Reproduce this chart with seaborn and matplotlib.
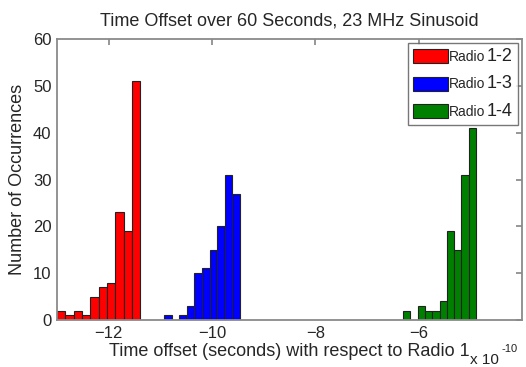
import numpy as np
import pandas as pd
import matplotlib
matplotlib.use("Agg")
import matplotlib.pyplot as plt
from matplotlib.offsetbox import TextArea
import seaborn as sns

# bin counts (10 bins per pair, as MATLAB hist does)
pairs = ["1-2", "1-3", "1-4"]
colors = ["#ff0000", "#0000ff", "#008000"]
red_counts = [2, 1, 2, 1, 5, 7, 8, 23, 19, 51]
blue_counts = [1, 0, 1, 3, 10, 11, 15, 20, 31, 27]
green_counts = [2, 0, 3, 2, 2, 4, 19, 15, 31, 41]
# range of each histogram, in units of 1e-10 s
ranges = [(-13.0, -11.39), (-10.93, -9.46), (-6.30, -4.89)]
xticks = [-12, -10, -8, -6]
yticks = [0, 10, 20, 30, 40, 50, 60]

sns.set_theme(style="white")
plt.rcParams['font.family'] = ['Liberation Sans', 'DejaVu Sans']

W, H = 526, 367
fig = plt.figure(figsize=(W / 100, H / 100), dpi=100)
ax = fig.add_axes([57 / W, 47 / H, 465 / W, 281 / H])

for counts, (lo, hi), col in zip([red_counts, blue_counts, green_counts], ranges, colors):
    edges = np.linspace(lo, hi, len(counts) + 1)
    df = pd.DataFrame({"offset": (edges[:-1] + edges[1:]) / 2, "count": counts})
    sns.histplot(data=df, x="offset", weights="count", bins=len(counts), binrange=(lo, hi),
                 color=col, edgecolor="#222222", linewidth=0.8, alpha=1, label="Radio", ax=ax)

ax.set_xlim(-13, -4)
ax.set_ylim(0, 60)
ax.set_xticks(xticks)
ax.set_yticks(yticks)
ax.tick_params(direction="in", length=4, top=True, right=True, labelsize=12,
               color="#8a8a8a", pad=4)
for s in ax.spines.values():
    s.set_color("#8a8a8a")
    s.set_linewidth(1.3)
ax.set_ylabel("Number of Occurrences", fontsize=13, labelpad=5)
ax.set_xlabel("Time offset (seconds) with respect to Radio 1", fontsize=13, labelpad=2)
ax.set_title("Time Offset over 60 Seconds, 23 MHz Sinusoid", fontsize=13, pad=9.5)
# MATLAB style exponent label under the right end of the axis
fig.text(470 / W, 1 - 364 / H, "x 10", fontsize=11, ha="left", va="baseline", color="#222222")
fig.text(501 / W, 1 - 352 / H, "-10", fontsize=8, ha="left", va="baseline", color="#222222")

leg = ax.legend(loc="upper right", fontsize=10, frameon=True, fancybox=False,
                handlelength=2.5, handleheight=1.2, borderaxespad=0.3,
                handletextpad=0.1, labelspacing=0.75, borderpad=0.35)
leg.get_frame().set_edgecolor("#555555")
leg.get_frame().set_linewidth(1.0)

# "Radio" is small and the pair number is larger, as in the original legend
entries = leg._legend_handle_box.get_children()[0].get_children()
added = []
try:
    for entry, p in zip(entries, pairs):
        ta = TextArea(p, textprops=dict(fontsize=13, color="#222222"))
        ta.set_figure(fig)
        entry.get_children().append(ta)
        added.append((entry, ta))
    fig.canvas.draw()
except Exception:
    # fall back: pad the label and put the number next to it
    for entry, ta in added:
        if ta in entry.get_children():
            entry.get_children().remove(ta)
    fig.canvas.draw()
    texts = leg.get_texts()
    radio_w = texts[0].get_window_extent().width
    for t in texts:
        t.set_text("Radio        ")
    fig.canvas.draw()
    for t, p in zip(texts, pairs):
        x0, y0 = t.get_transform().transform(t.get_position())
        fig.text((x0 + radio_w + 1) / W, y0 / H, p, fontsize=13, ha="left",
                 va="baseline", color="#222222")

fig.savefig("out.png", dpi=100)
